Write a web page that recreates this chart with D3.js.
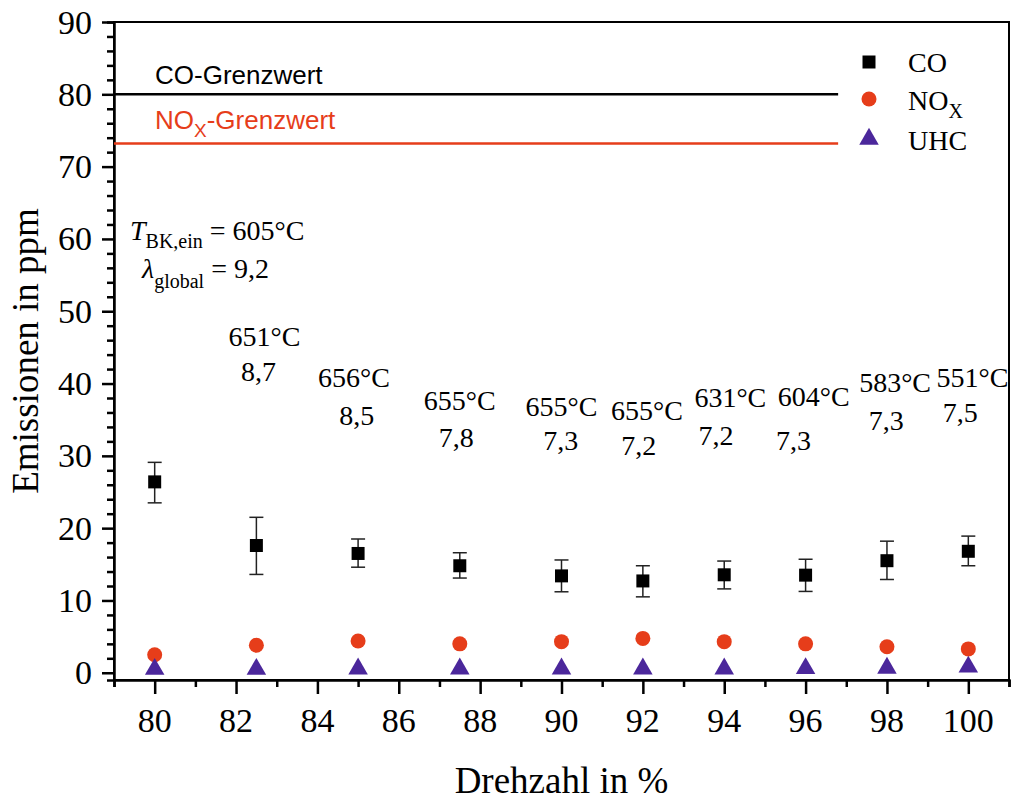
<!DOCTYPE html>
<html>
<head>
<meta charset="utf-8">
<script src="https://cdn.jsdelivr.net/npm/d3@7"></script>
<style>
	body { margin: 0; background: #fff; }
	svg { display: block; }
	svg text { font-family: "Liberation Serif", "Times New Roman", serif; fill: #000; }
	svg text.sans { font-family: "Liberation Sans", Arial, sans-serif; }
</style>
</head>
<body>
<script>
// data
const drehzahl = [80, 82.5, 85, 87.5, 90, 92, 94, 96, 98, 100];
const co     = [26.4, 17.6, 16.5, 14.8, 13.4, 12.7, 13.55, 13.5, 15.5, 16.8];
const coLow  = [23.5, 13.6, 14.6, 13.1, 11.2, 10.5, 11.6, 11.25, 12.9, 14.8];
const coHigh = [29.1, 21.5, 18.5, 16.6, 15.6, 14.8, 15.45, 15.7, 18.2, 18.9];
const nox    = [2.5, 3.8, 4.4, 4.0, 4.3, 4.75, 4.3, 4.0, 3.6, 3.3];
const uhc    = [0.5, 0.5, 0.55, 0.55, 0.55, 0.55, 0.55, 0.6, 0.65, 0.8];

const coLimit = 80;
const noxLimit = 73.2;
const limitEnd = 96.8;

const xTicks = [80, 82, 84, 86, 88, 90, 92, 94, 96, 98, 100];
const yTicks = [0, 10, 20, 30, 40, 50, 60, 70, 80, 90];

// temperature / lambda labels for 82.5 ... 100 %
const tempLabels   = ['651°C', '656°C', '655°C', '655°C', '655°C', '631°C', '604°C', '583°C', '551°C'];
const lambdaLabels = ['8,7', '8,5', '7,8', '7,3', '7,2', '7,2', '7,3', '7,3', '7,5'];
const tempLabelX   = [82.7, 84.9, 87.5, 90.0, 92.1, 94.15, 96.2, 98.2, 100.1];
const tempLabelY   = [45.2, 39.5, 36.3, 35.5, 35.0, 36.8, 36.9, 38.8, 39.5];
const lambdaLabelX = [82.55, 84.97, 87.41, 89.98, 91.9, 93.8, 95.7, 97.98, 99.8];
const lambdaLabelY = [40.4, 34.3, 31.2, 30.8, 30.1, 31.5, 30.8, 33.6, 34.7];

const width = 1011, height = 800;
const plotLeft = 114, plotRight = 1009, plotTop = 22, plotBottom = 680;
const red = '#e63d1a';
const purple = '#4b279b';

let svg = d3.select('body').append('svg')
	.attr('width', width)
	.attr('height', height);

let x = d3.scaleLinear().domain([79, 101]).range([plotLeft, plotRight]);
let y = d3.scaleLinear().domain([-1, 90]).range([plotBottom, plotTop]);

// frame
svg.append('rect')
	.attr('x', plotLeft).attr('y', plotTop)
	.attr('width', plotRight - plotLeft).attr('height', plotBottom - plotTop)
	.style('fill', 'none').style('stroke', '#000').style('stroke-width', 2);

// x axis
let xAxis = svg.append('g').attr('transform', `translate(0,${plotBottom})`);
xAxis.call(d3.axisBottom(x).tickValues(d3.range(79, 101.01, 1)).tickSize(7).tickFormat(''));
xAxis.call(g => g.selectAll('.tick line').filter(d => d % 2 === 0).attr('y2', 14));
xAxis.append('g').selectAll('text').data(xTicks).enter().append('text')
	.attr('x', d => x(d)).attr('y', 52)
	.attr('text-anchor', 'middle')
	.style('font-size', '34px')
	.text(d => d);

// y axis
let yAxis = svg.append('g').attr('transform', `translate(${plotLeft},0)`);
yAxis.call(d3.axisLeft(y).tickValues(d3.range(0, 90.01, 2)).tickSize(7).tickFormat(''));
yAxis.call(g => g.selectAll('.tick line').filter(d => d % 10 === 0).attr('x2', -12));
yAxis.append('g').selectAll('text').data(yTicks).enter().append('text')
	.attr('x', -22).attr('y', d => y(d))
	.attr('dy', '0.34em')
	.attr('text-anchor', 'end')
	.style('font-size', '34px')
	.text(d => d);

svg.selectAll('.domain').style('stroke-width', 2.5);
svg.selectAll('.tick line').style('stroke-width', 2.5);

// axis titles
svg.append('text')
	.attr('x', (plotLeft + plotRight) / 2).attr('y', 793)
	.attr('text-anchor', 'middle')
	.style('font-size', '37px')
	.text('Drehzahl in %');

svg.append('text')
	.attr('transform', `translate(38,${(plotTop + plotBottom) / 2}) rotate(-90)`)
	.attr('text-anchor', 'middle')
	.style('font-size', '37px')
	.text('Emissionen in ppm');

// limit lines
svg.append('line')
	.attr('x1', x(79)).attr('x2', x(limitEnd))
	.attr('y1', y(coLimit)).attr('y2', y(coLimit))
	.style('stroke', '#000').style('stroke-width', 2.5);
svg.append('line')
	.attr('x1', x(79)).attr('x2', x(limitEnd))
	.attr('y1', y(noxLimit)).attr('y2', y(noxLimit))
	.style('stroke', red).style('stroke-width', 2.5);

svg.append('text')
	.attr('class', 'sans')
	.attr('x', 155).attr('y', 84)
	.style('font-size', '26px')
	.text('CO-Grenzwert');

let noxText = svg.append('text')
	.attr('class', 'sans')
	.attr('x', 155).attr('y', 129)
	.style('font-size', '26px').style('fill', red);
noxText.append('tspan').text('NO');
noxText.append('tspan').attr('dy', 8).style('font-size', '19px').text('X');
noxText.append('tspan').attr('dy', -8).text('-Grenzwert');

// operating point note
let t1 = svg.append('text').attr('x', 130).attr('y', 240).style('font-size', '28px');
t1.append('tspan').style('font-style', 'italic').text('T');
t1.append('tspan').attr('dy', 8).style('font-size', '20px').text('BK,ein');
t1.append('tspan').attr('dy', -8).text(' = 605°C');

let t2 = svg.append('text').attr('x', 142).attr('y', 278).style('font-size', '28px');
t2.append('tspan').style('font-style', 'italic').text('λ');
t2.append('tspan').attr('dy', 10).style('font-size', '20px').text('global');
t2.append('tspan').attr('dy', -10).text(' = 9,2');

// temperature and lambda labels
svg.append('g').selectAll('text').data(tempLabels).enter().append('text')
	.attr('x', (d, i) => x(tempLabelX[i]))
	.attr('y', (d, i) => y(tempLabelY[i]))
	.attr('text-anchor', 'middle')
	.style('font-size', '28px')
	.text(d => d);

svg.append('g').selectAll('text').data(lambdaLabels).enter().append('text')
	.attr('x', (d, i) => x(lambdaLabelX[i]))
	.attr('y', (d, i) => y(lambdaLabelY[i]))
	.attr('text-anchor', 'middle')
	.style('font-size', '28px')
	.text(d => d);

// error bars
let errs = svg.append('g').selectAll('g').data(drehzahl).enter().append('g')
	.style('stroke', '#222').style('stroke-width', 1.5);
errs.append('line')
	.attr('x1', d => x(d)).attr('x2', d => x(d))
	.attr('y1', (d, i) => y(coLow[i])).attr('y2', (d, i) => y(coHigh[i]));
errs.append('line')
	.attr('x1', d => x(d) - 7).attr('x2', d => x(d) + 7)
	.attr('y1', (d, i) => y(coLow[i])).attr('y2', (d, i) => y(coLow[i]));
errs.append('line')
	.attr('x1', d => x(d) - 7).attr('x2', d => x(d) + 7)
	.attr('y1', (d, i) => y(coHigh[i])).attr('y2', (d, i) => y(coHigh[i]));

// markers
let square = d3.symbol().type(d3.symbolSquare).size(169);
let triangle = d3.symbol().type(d3.symbolTriangle).size(165);

svg.append('g').selectAll('path').data(drehzahl).enter().append('path')
	.attr('d', square)
	.attr('transform', (d, i) => `translate(${x(d)},${y(co[i])})`)
	.style('fill', '#000');

svg.append('g').selectAll('circle').data(drehzahl).enter().append('circle')
	.attr('cx', d => x(d)).attr('cy', (d, i) => y(nox[i]))
	.attr('r', 7.5)
	.style('fill', red);

svg.append('g').selectAll('path').data(drehzahl).enter().append('path')
	.attr('d', triangle)
	.attr('transform', (d, i) => `translate(${x(d)},${y(uhc[i])})`)
	.style('fill', purple);

// legend
let legend = svg.append('g');
legend.append('path').attr('d', square).attr('transform', 'translate(869,62)').style('fill', '#000');
legend.append('circle').attr('cx', 869).attr('cy', 99).attr('r', 7.5).style('fill', red);
legend.append('path').attr('d', triangle).attr('transform', 'translate(869,139)').style('fill', purple);

legend.append('text').attr('x', 908).attr('y', 72).style('font-size', '28px').text('CO');
let lNox = legend.append('text').attr('x', 908).attr('y', 110).style('font-size', '28px');
lNox.append('tspan').text('NO');
lNox.append('tspan').attr('dy', 8).style('font-size', '20px').text('X');
legend.append('text').attr('x', 908).attr('y', 150).style('font-size', '28px').text('UHC');
</script>
</body>
</html>
